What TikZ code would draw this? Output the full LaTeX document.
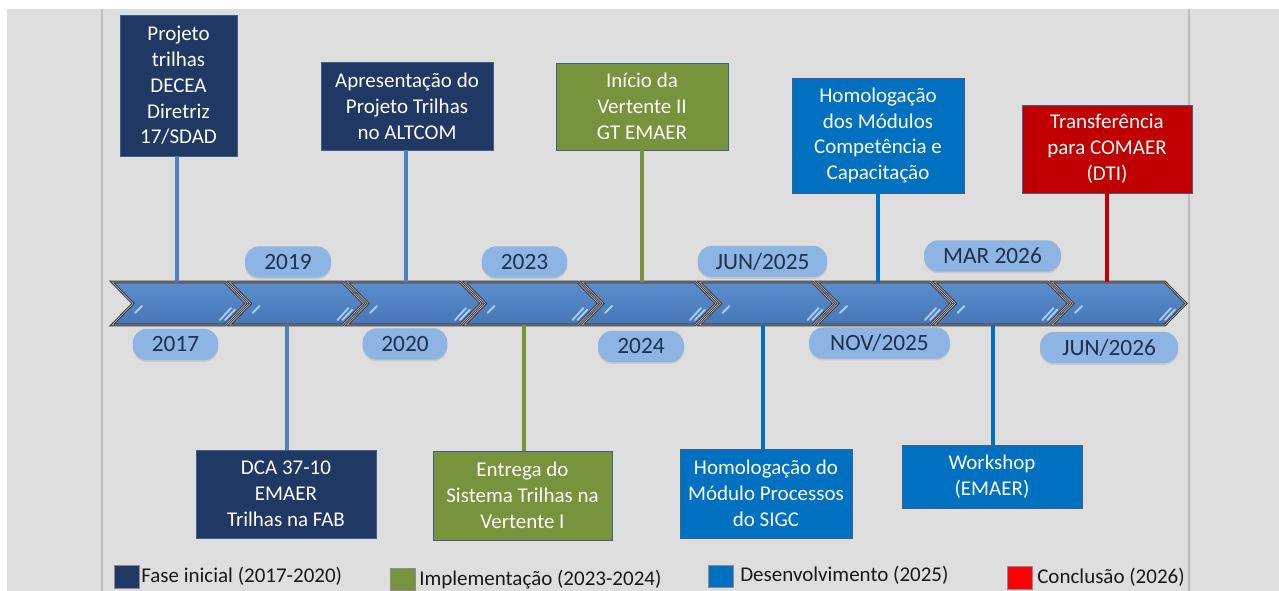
\documentclass[tikz,border=0pt]{standalone}
\usepackage{fontspec}
\setmainfont{Carlito}
\usetikzlibrary{shadows}
\definecolor{bgc}{RGB}{222,222,222}
\definecolor{sepc}{RGB}{190,190,190}
\definecolor{navyc}{RGB}{31,56,100}
\definecolor{greenc}{RGB}{119,147,60}
\definecolor{bluec}{RGB}{0,112,192}
\definecolor{redc}{RGB}{192,0,0}
\definecolor{legred}{RGB}{255,0,0}
\definecolor{boxedge}{RGB}{65,95,140}
\definecolor{lnavy}{RGB}{79,129,189}
\definecolor{chevtop}{RGB}{92,141,204}
\definecolor{chevbot}{RGB}{70,118,182}
\definecolor{chevdark}{RGB}{55,55,60}
\definecolor{chevgap}{RGB}{175,175,180}
\definecolor{hlc}{RGB}{170,205,245}
\definecolor{pillc}{RGB}{141,180,226}
\definecolor{pilltxt}{RGB}{30,48,78}
\definecolor{legtxt}{RGB}{25,25,25}
\begin{document}
\begin{tikzpicture}[x=0.75pt,y=-0.75pt,
  box/.style={rectangle, inner sep=0pt, align=center, text=white,
    font=\fontsize{15.75}{19.35}\selectfont, draw=boxedge, line width=0.6pt},
  navybox/.style={box, fill=navyc},
  greenbox/.style={box, fill=greenc},
  bluebox/.style={box, fill=bluec},
  redbox/.style={box, fill=redc},
  conn/.style={line width=2.3pt},
  pill/.style={rectangle, rounded corners=10.5pt, fill=pillc, text=pilltxt, inner sep=0pt,
    minimum height=23.5pt, font=\fontsize{17.5}{20}\selectfont,
    drop shadow={shadow xshift=0pt, shadow yshift=-1.3pt, opacity=0.22}},
  chevshape/.style={top color=chevtop, bottom color=chevbot, draw=chevdark,
    double=chevgap, double distance=0.5pt, line width=0.7pt, line join=miter},
  hlstroke/.style={draw=hlc, line width=1.4pt, line cap=round},
  legsq/.style={rectangle, inner sep=0pt, minimum width=19pt, minimum height=17pt, draw=black!45, line width=0.5pt},
  legtext/.style={anchor=west, inner sep=0pt, text=legtxt, font=\fontsize{15.75}{18}\selectfont}
]
\useasboundingbox (0,0) rectangle (1279,591);
% background
\fill[white] (0,0) rectangle (1279,591);
\fill[bgc] (7,9) rectangle (1279,591);
\draw[sepc, line width=1pt] (102,9) -- (102,591);
\draw[sepc, line width=1pt] (1189,9) -- (1189,591);

% chevrons
\foreach \i in {0,...,8} {
  \pgfmathsetmacro\xa{112+117.5*\i}
  \path[chevshape] (\xa,282) -- ({\xa+113},282) -- ({\xa+134},303.5) -- ({\xa+113},325)
     -- (\xa,325) -- ({\xa+21},303.5) -- cycle;
  \draw[hlstroke] ({\xa+23},313) -- ({\xa+30},306);
  \draw[hlstroke] ({\xa+108},320) -- ({\xa+119},308);
  \draw[hlstroke] ({\xa+113},320) -- ({\xa+123},309.5);
}

% anchor points on the timeline
\coordinate (t1) at (177,282);
\coordinate (t2) at (406,282);
\coordinate (t3) at (642,282);
\coordinate (t4) at (878,282);
\coordinate (t5) at (1107,282);
\coordinate (u1) at (287,325);
\coordinate (u2) at (524,325);
\coordinate (u3) at (763,325);
\coordinate (u4) at (993,325);

% boxes above
\node[navybox, minimum width=87.75pt, minimum height=105.75pt] (b1) at (178.5,85.5)
  {Projeto\\trilhas\\DECEA\\Diretriz\\17/SDAD};
\node[navybox, minimum width=129pt, minimum height=66pt] (b2) at (407,106)
  {Apresentação do\\Projeto Trilhas\\no ALTCOM};
\node[greenbox, minimum width=129pt, minimum height=65.25pt] (b3) at (642,106.5)
  {Início da\\Vertente II\\GT EMAER};
\node[bluebox, minimum width=129pt, minimum height=86.25pt] (b4) at (878,135.5)
  {Homologação\\dos Módulos\\Competência e\\Capacitação};
\node[redbox, minimum width=127.5pt, minimum height=66pt] (b5) at (1107,149)
  {Transferência\\para COMAER\\(DTI)};

% boxes below
\node[navybox, minimum width=135pt, minimum height=66pt] (c1) at (286,494)
  {DCA 37-10\\EMAER\\Trilhas na FAB};
\node[greenbox, minimum width=134.25pt, minimum height=66.75pt] (c2) at (522.5,495.5)
  {Entrega do\\Sistema Trilhas na\\Vertente I};
\node[bluebox, minimum width=129pt, minimum height=66.75pt] (c3) at (766,493.5)
  {Homologação do\\Módulo Processos\\do SIGC};
\node[bluebox, minimum width=135pt, minimum height=47.25pt] (c4) at (992,476.5)
  {Workshop\\(EMAER)};

% connectors
\draw[conn, lnavy] (b1.south -| t1) -- (t1);
\draw[conn, lnavy] (b2.south -| t2) -- (t2);
\draw[conn, greenc] (b3.south -| t3) -- (t3);
\draw[conn, bluec] (b4.south -| t4) -- (t4);
\draw[conn, redc] (b5.south -| t5) -- (t5);
\draw[conn, lnavy] (u1) -- (c1.north -| u1);
\draw[conn, greenc] (u2) -- (c2.north -| u2);
\draw[conn, bluec] (u3) -- (c3.north -| u3);
\draw[conn, bluec] (u4) -- (c4.north -| u4);

% year pills
\node[pill, minimum width=64pt] (p1) at (175.5,344.5) {2017};
\node[pill, minimum width=64.5pt] (p2) at (288,262) {2019};
\node[pill, minimum width=63.5pt] (p3) at (405,344) {2020};
\node[pill, minimum width=64pt] (p4) at (524.5,262) {2023};
\node[pill, minimum width=64.5pt] (p5) at (641,346.5) {2024};
\node[pill, minimum width=97pt] (p6) at (762.5,261.5) {JUN/2025};
\node[pill, minimum width=105.5pt] (p7) at (879.5,343) {NOV/2025};
\node[pill, minimum width=102.5pt] (p8) at (992.5,256) {MAR 2026};
\node[pill, minimum width=103.5pt] (p9) at (1109,347.5) {JUN/2026};

% legend
\node[legsq, fill=navyc] (l1) at (126.5,577) {};
\node[legtext] (lt1) at (141,576) {Fase inicial (2017-2020)};
\node[legsq, fill=greenc] (l2) at (403,579.5) {};
\node[legtext] (lt2) at (419,580) {Implementação (2023-2024)};
\node[legsq, fill=bluec] (l3) at (721,576.5) {};
\node[legtext] (lt3) at (740,575) {Desenvolvimento (2025)};
\node[legsq, fill=legred] (l4) at (1019.5,578) {};
\node[legtext] (lt4) at (1037,577) {Conclusão (2026)};
\end{tikzpicture}
\end{document}
